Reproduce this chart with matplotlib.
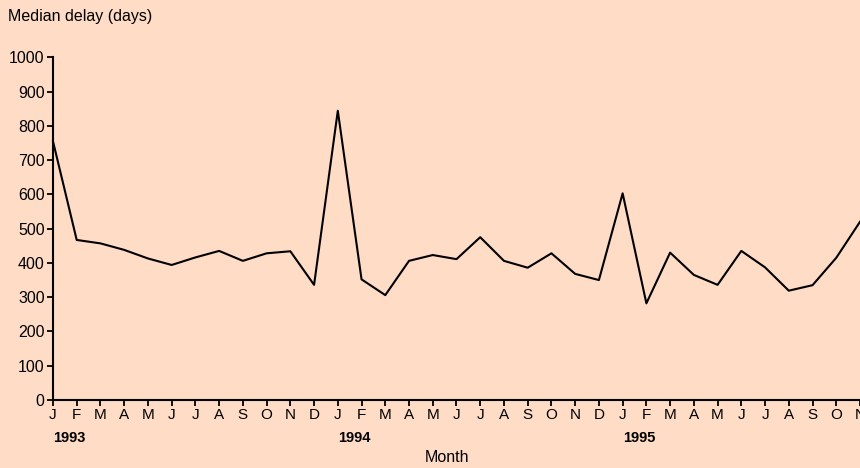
from matplotlib import pyplot as plt
from matplotlib import transforms

# Données
months = ['J', 'F', 'M', 'A', 'M', 'J', 'J', 'A', 'S', 'O', 'N', 'D',
          'J', 'F', 'M', 'A', 'M', 'J', 'J', 'A', 'S', 'O', 'N', 'D',
          'J', 'F', 'M', 'A', 'M', 'J', 'J', 'A', 'S', 'O', 'N']
years = ['1993', '1994', '1995']
year_start = [0, 12, 24]
median_delay = [755, 467, 457, 438, 413, 394, 416, 435, 406, 428, 434, 336,
                844, 352, 306, 406, 423, 411, 475, 406, 386, 428, 368, 350,
                603, 282, 430, 365, 336, 435, 387, 319, 335, 415, 520]

bg = '#fedcc6'
font = ['Liberation Sans', 'DejaVu Sans']

fig = plt.figure(figsize=(8.6, 4.68), dpi=100, facecolor=bg)
ax = fig.add_axes([0.0616, 0.1453, 0.9384, 0.7323], facecolor=bg)

x = list(range(len(median_delay)))
ax.plot(x, median_delay, color='black', linewidth=1.5, clip_on=False)

ax.set_xlim(0, len(months) - 1)
ax.set_ylim(0, 1000)
ax.set_yticks(range(0, 1001, 100))
ax.set_yticklabels([str(v) for v in range(0, 1001, 100)], family=font, fontsize=11.5)
ax.set_xticks(x)
ax.set_xticklabels(months, family=font, fontsize=11)

for side in ['top', 'right']:
    ax.spines[side].set_visible(False)
for side in ['left', 'bottom']:
    ax.spines[side].set_linewidth(1.5)
ax.tick_params(axis='both', direction='out', length=4, width=1.3, pad=2)

# Années sous les mois de janvier
trans = transforms.blended_transform_factory(ax.transData, ax.transAxes)
for pos, yr in zip(year_start, years):
    ax.text(pos, -0.09, yr, transform=trans, ha='left', va='top',
            family=font, fontsize=10.5, fontweight='bold')

fig.text(447 / 860, 1 - 458 / 468, 'Month', ha='center', va='center',
         family=font, fontsize=11.5)
fig.text(8 / 860, 1 - 17 / 468, 'Median delay (days)', ha='left', va='center',
         family=font, fontsize=11.5)

plt.savefig('out.png', facecolor=bg)
